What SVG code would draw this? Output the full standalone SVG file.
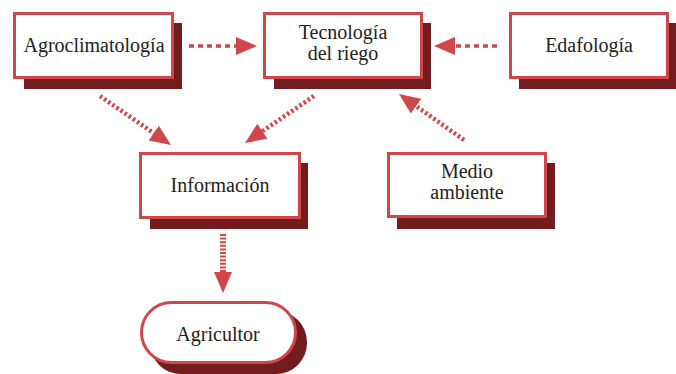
<svg xmlns="http://www.w3.org/2000/svg" width="676" height="374" viewBox="0 0 676 374">
<defs>
<style>
.box{fill:#fff;stroke:#cf474b;stroke-width:3}
.sh{fill:#731c1e}
.t{font-family:"Liberation Serif","Times New Roman",serif;font-size:20px;fill:#222;text-anchor:middle}
.dot{stroke:#cf474b;stroke-width:3.5;stroke-dasharray:5 4;fill:none}
.hat{stroke:#cf474b;stroke-width:4.5;stroke-dasharray:2.5 2.5;fill:none}
.hatv{stroke:#cf474b;stroke-width:6;stroke-dasharray:2 1.6;fill:none}
</style>
<marker id="ah" viewBox="0 0 21 18" refX="0" refY="9" markerWidth="21" markerHeight="18" markerUnits="userSpaceOnUse" orient="auto">
<path d="M0,0 L21,9 L0,18 Z" fill="#cf474b"/>
</marker>
</defs>
<rect width="676" height="374" fill="#fff"/>
<g id="agroclimatologia">
<rect class="sh" x="24" y="23" width="158" height="66"/>
<rect class="box" x="14.5" y="13.5" width="158" height="64"/>
<text class="t" x="94" y="52">Agroclimatología</text>
</g>
<g id="tecnologia">
<rect class="sh" x="274" y="23" width="157" height="66"/>
<rect class="box" x="264.5" y="13.5" width="157" height="64"/>
<text class="t" x="343" y="39">Tecnología</text>
<text class="t" x="343" y="60">del riego</text>
</g>
<g id="edafologia">
<rect class="sh" x="519" y="23" width="157" height="66"/>
<rect class="box" x="510.5" y="13.5" width="157" height="64"/>
<text class="t" x="589" y="52">Edafología</text>
</g>
<g id="informacion">
<rect class="sh" x="150" y="163" width="158" height="66"/>
<rect class="box" x="140.5" y="153.5" width="159" height="64"/>
<text class="t" x="220" y="192">Información</text>
</g>
<g id="medio-ambiente">
<rect class="sh" x="397" y="163" width="158" height="66"/>
<rect class="box" x="388.5" y="153.5" width="157" height="63"/>
<text class="t" x="467" y="178">Medio</text>
<text class="t" x="467" y="199">ambiente</text>
</g>
<g id="agricultor">
<rect class="sh" x="150" y="311" width="157" height="63" rx="31"/>
<rect class="box" x="141.5" y="302.5" width="154" height="60" rx="30"/>
<text class="t" x="218" y="341">Agricultor</text>
</g>
<g id="connectors">
<line class="dot" x1="189" y1="46" x2="236" y2="46" marker-end="url(#ah)"/>
<line class="dot" x1="497" y1="46" x2="455" y2="46" marker-end="url(#ah)"/>
<line class="hat" x1="100" y1="96" x2="153.7" y2="133.1" marker-end="url(#ah)"/>
<line class="hat" x1="314" y1="96" x2="262.4" y2="131.2" marker-end="url(#ah)"/>
<line class="hat" x1="464" y1="140" x2="416.1" y2="106.1" marker-end="url(#ah)"/>
<line class="hatv" x1="223" y1="234" x2="223" y2="272" marker-end="url(#ah)"/>
</g>
</svg>
